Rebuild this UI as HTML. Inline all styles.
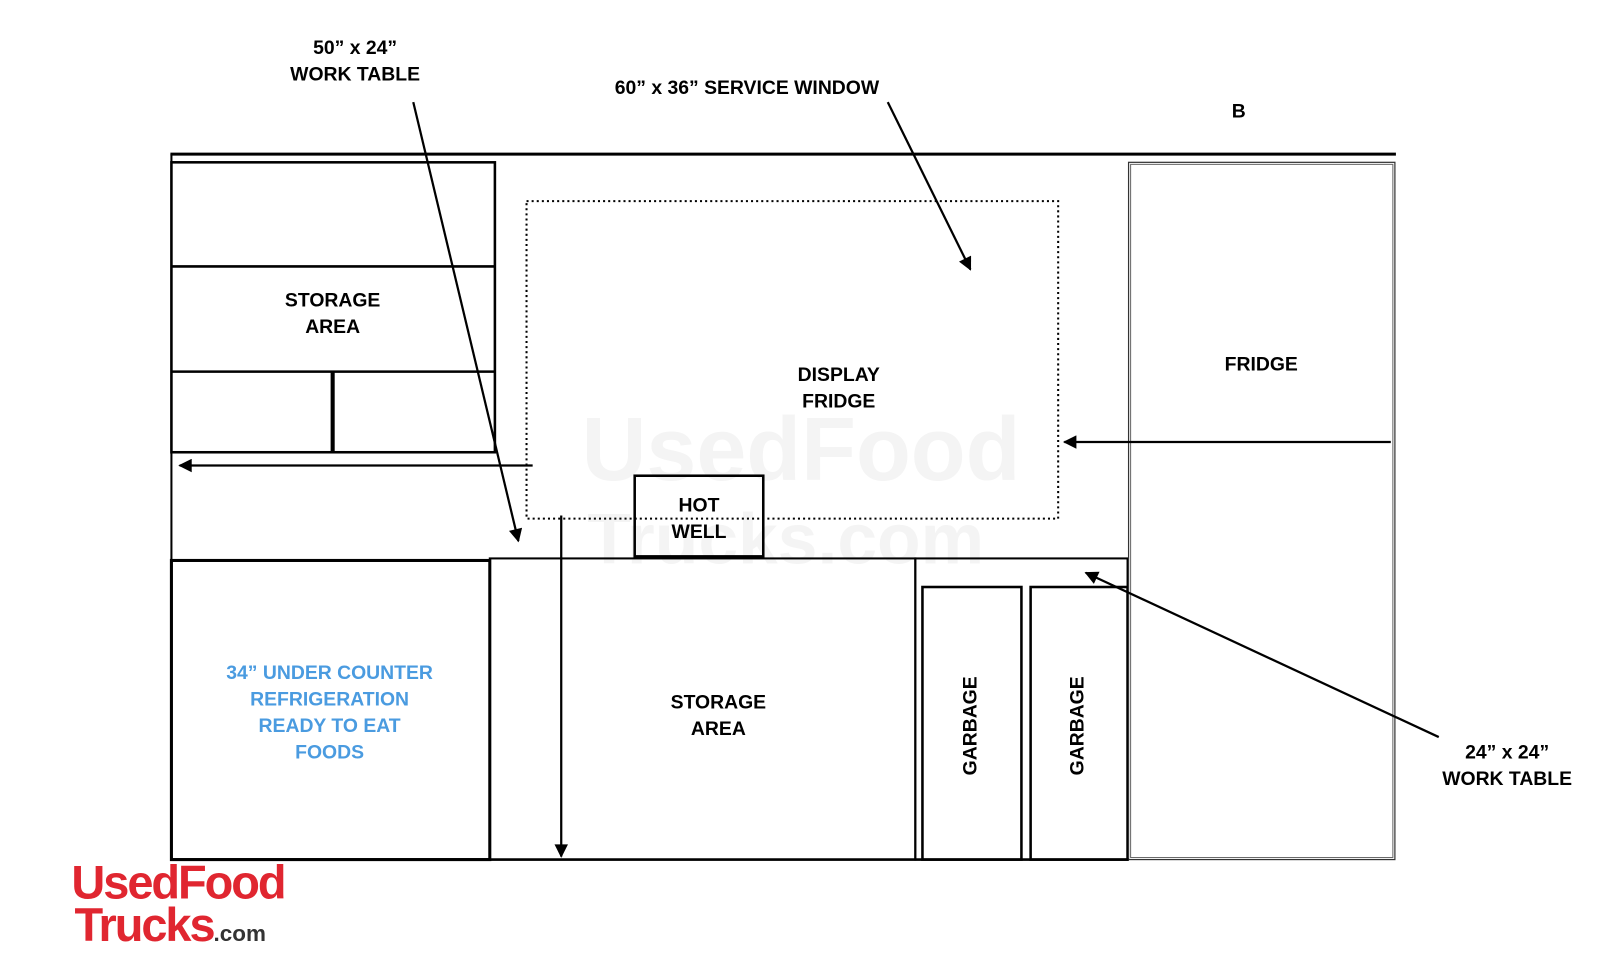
<!DOCTYPE html>
<html><head><style>html,body{margin:0;padding:0;background:#fff}svg{display:block}</style></head><body>
<svg width="1600" height="978" viewBox="0 0 1568 958" preserveAspectRatio="none" xmlns="http://www.w3.org/2000/svg" font-family="Liberation Sans, sans-serif" font-weight="bold">
<defs><marker id="a" viewBox="0 0 10 10" refX="9" refY="5" markerWidth="7" markerHeight="6" orient="auto"><path d="M0,0L10,5L0,10z" fill="#000"/></marker></defs>
<text x="785" y="470" font-size="88" fill="#f4f4f4" text-anchor="middle">UsedFood</text>
<text x="770" y="552" font-size="70" fill="#f4f4f4" text-anchor="middle">Trucks.com</text>
<g fill="none" stroke="#000">
<line x1="167" y1="151" x2="1368" y2="151" stroke-width="3"/>
<line x1="168" y1="151" x2="168" y2="843" stroke-width="2"/>
<rect x="168" y="159" width="317" height="284" stroke-width="2.5"/>
<line x1="168" y1="261" x2="485" y2="261" stroke-width="2.5"/>
<line x1="168" y1="364" x2="485" y2="364" stroke-width="2.5"/>
<line x1="326" y1="364" x2="326" y2="443" stroke-width="4"/>
<rect x="516" y="197" width="521" height="311" stroke-width="2" stroke-dasharray="2,3"/>
<rect x="622" y="466" width="126" height="79" stroke-width="2.5"/>
<rect x="168" y="549" width="312" height="293" stroke-width="3"/>
<rect x="480" y="547" width="417" height="295" stroke-width="2"/>
<rect x="897" y="547" width="208" height="295" stroke-width="2"/>
<rect x="904" y="575" width="97" height="267" stroke-width="2.5"/>
<rect x="1010" y="575" width="95" height="267" stroke-width="2.5"/>
<rect x="1106" y="159" width="261" height="683" stroke-width="1.2" stroke="#333"/>
<rect x="1108" y="161" width="257" height="679" stroke-width="1" stroke="#666"/>
<line x1="168" y1="842" x2="1106" y2="842" stroke-width="2.5"/>
<g stroke-width="2.2" marker-end="url(#a)">
<line x1="522" y1="456" x2="176" y2="456"/>
<line x1="405" y1="100" x2="508" y2="530"/>
<line x1="870" y1="100" x2="951" y2="264"/>
<line x1="1363" y1="433" x2="1043" y2="433"/>
<line x1="1410" y1="722" x2="1064" y2="561"/>
<line x1="550" y1="505" x2="550" y2="839"/>
</g></g>
<g font-size="19" text-anchor="middle" fill="#000">
<text x="348" y="53">50” x 24”</text><text x="348" y="79">WORK TABLE</text>
<text x="732" y="92">60” x 36” SERVICE WINDOW</text>
<text x="1214" y="115">B</text>
<text x="326" y="300">STORAGE</text><text x="326" y="326">AREA</text>
<text x="822" y="373">DISPLAY</text><text x="822" y="399">FRIDGE</text>
<text x="1236" y="363">FRIDGE</text>
<text x="685" y="501">HOT</text><text x="685" y="527">WELL</text>
<text x="704" y="694">STORAGE</text><text x="704" y="720">AREA</text>
<text x="1477" y="743">24” x 24”</text><text x="1477" y="769">WORK TABLE</text>
<g fill="#4a9be0"><text x="323" y="665">34” UNDER COUNTER</text><text x="323" y="691">REFRIGERATION</text><text x="323" y="717">READY TO EAT</text><text x="323" y="743">FOODS</text></g>
<text transform="translate(957,711) rotate(-90)">GARBAGE</text>
<text transform="translate(1062,711) rotate(-90)">GARBAGE</text>
</g>
<text x="70" y="880" font-size="46" fill="#e02630" letter-spacing="-2">UsedFood</text>
<text x="73" y="922" font-size="46" fill="#e02630" letter-spacing="-2">Trucks<tspan font-size="22" fill="#333" letter-spacing="0">.com</tspan></text>
</svg>
</body></html>
